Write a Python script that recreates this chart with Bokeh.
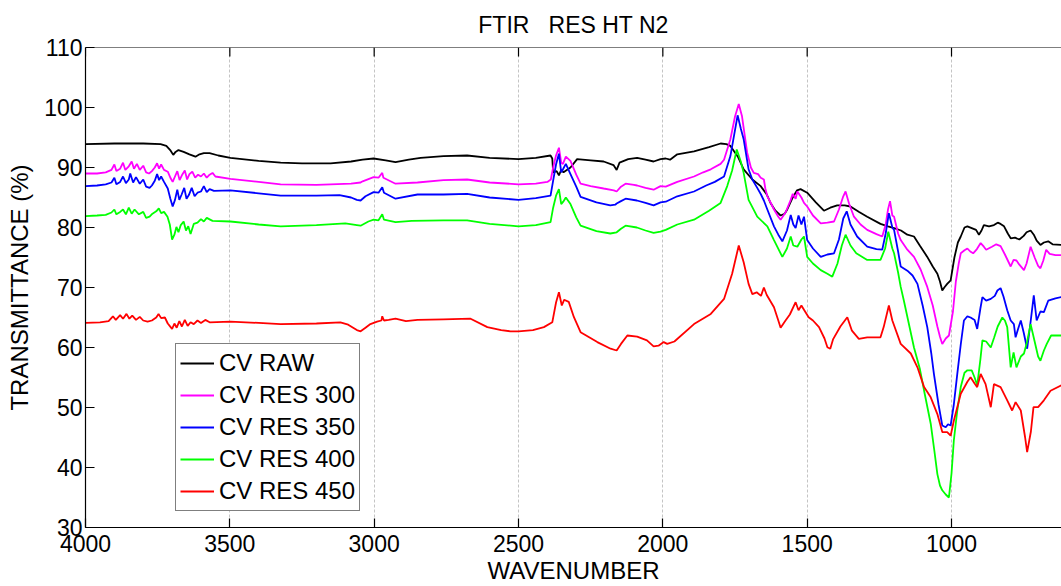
from bokeh.plotting import figure
from bokeh.models import Range1d, FixedTicker, Legend, LegendItem, Span
from bokeh.embed import file_html
from bokeh.resources import INLINE

TITLE = "FTIR\u00a0\u00a0 RES HT N2"
X_LABEL = "WAVENUMBER"
Y_LABEL = "TRANSMITTANCE (%)"
x_ticks = [4000, 3500, 3000, 2500, 2000, 1500, 1000]
y_ticks = [30, 40, 50, 60, 70, 80, 90, 100, 110]
series_names = ["CV RAW", "CV RES 300", "CV RES 350", "CV RES 400", "CV RES 450"]
series_colors = ["#000000", "#ff00ff", "#0000ff", "#00ff00", "#ff0000"]

# ---------------- CV RAW ----------------
wn_raw = [4000, 3900, 3800, 3740, 3720, 3705, 3696, 3688, 3678, 3660, 3640, 3619, 3605, 3590, 3570,
          3540, 3498, 3400, 3324, 3250, 3151, 3080, 3040, 3002, 2960, 2926, 2880, 2839, 2760, 2678,
          2600, 2500, 2440, 2389, 2383, 2380, 2368, 2360, 2352, 2344, 2320, 2297, 2250, 2205, 2171,
          2160, 2150, 2120, 2089, 2060, 2032, 2008, 1990, 1975, 1950, 1892, 1840, 1800, 1780, 1766,
          1740, 1720, 1690, 1661, 1640, 1627, 1610, 1592, 1578, 1569, 1550, 1535, 1523, 1500, 1470,
          1442, 1420, 1396, 1370, 1350, 1320, 1292, 1246, 1220, 1199, 1175, 1153, 1130, 1110, 1084,
          1065, 1049, 1040, 1032, 1025, 1015, 1003, 990, 978, 968, 955, 945, 930, 915, 905, 896, 888,
          870, 853, 840, 830, 818, 805, 795, 780, 765, 750, 740, 726, 715, 705, 692, 680, 665, 650, 619]
t_raw = [93.9, 94.0, 94.0, 93.9, 93.6, 92.8, 92.1, 92.6, 92.9, 92.6, 92.2, 91.8, 92.2, 92.4, 92.4,
         92.0, 91.6, 91.1, 90.8, 90.7, 90.7, 91.0, 91.3, 91.5, 91.2, 90.9, 91.3, 91.6, 91.9, 92.0,
         91.6, 91.4, 91.6, 92.0, 91.5, 89.2, 89.4, 88.7, 89.6, 89.2, 90.0, 91.4, 91.2, 91.0, 90.4,
         89.6, 90.8, 91.4, 91.6, 91.3, 91.0, 91.4, 91.5, 91.3, 92.2, 92.7, 93.4, 94.0, 93.9, 93.6,
         91.8, 89.7, 88.0, 86.9, 85.5, 84.1, 82.8, 82.0, 82.3, 83.0, 85.0, 86.2, 86.4, 85.8, 84.2,
         82.8, 83.3, 83.7, 83.7, 83.5, 82.6, 81.8, 80.6, 80.2, 79.9, 79.5, 78.8, 78.5, 77.0, 75.1,
         73.5, 72.3, 71.0, 69.5, 70.0, 70.6, 71.2, 75.0, 77.5, 78.5, 80.0, 80.2, 79.9, 79.6, 78.8, 79.5, 80.4,
         80.2, 80.4, 80.8, 80.6, 80.2, 79.0, 78.2, 78.3, 78.0, 78.6, 79.2, 79.5, 78.8, 77.8, 77.1, 77.5, 77.7, 77.2, 77.1]

# ---------------- CV RES 300 ----------------
wn_300 = [4000, 3960, 3930, 3910, 3900, 3893, 3880, 3870, 3862, 3850, 3840, 3832, 3822, 3812, 3800,
          3790, 3780, 3770, 3760, 3752, 3745, 3738, 3728, 3715, 3705, 3698, 3690, 3682, 3674, 3665,
          3656, 3648, 3640, 3630, 3620, 3610, 3600, 3590, 3580, 3570, 3560, 3550, 3498, 3400, 3324,
          3200, 3151, 3080, 3047, 3040, 3002, 2985, 2972, 2968, 2926, 2850, 2760, 2678, 2600, 2500,
          2440, 2400, 2388, 2380, 2370, 2360, 2352, 2346, 2336, 2320, 2300, 2285, 2250, 2205, 2170,
          2160, 2145, 2129, 2100, 2089, 2060, 2032, 2008, 1990, 1950, 1892, 1860, 1834, 1800, 1788,
          1766, 1750, 1737, 1726, 1708, 1695, 1685, 1670, 1661, 1650, 1645, 1638, 1625, 1615, 1600,
          1592, 1575, 1557, 1550, 1540, 1534, 1520, 1511, 1500, 1480, 1453, 1430, 1407, 1390, 1375,
          1367, 1355, 1338, 1315, 1292, 1260, 1240, 1228, 1220, 1213, 1205, 1199, 1185, 1176, 1153,
          1130, 1107, 1084, 1065, 1049, 1040, 1032, 1020, 1009, 995, 985, 975, 968, 955, 945, 935,
          925, 912, 899, 888, 880, 860, 845, 830, 815, 805, 795, 785, 775, 765, 749, 740, 732, 726,
          712, 700, 692, 682, 672, 660, 640, 619]
t_300 = [89.0, 89.0, 89.2, 89.6, 90.5, 89.4, 89.8, 90.8, 89.6, 90.2, 91.0, 89.8, 90.6, 89.6, 90.3,
         89.2, 89.0, 89.4, 90.0, 90.7, 89.8, 90.5, 89.6, 89.3, 88.2, 87.6, 88.5, 89.4, 87.9, 88.8,
         89.5, 88.0, 88.9, 89.3, 88.3, 88.8, 88.5, 89.0, 88.3, 88.8, 89.1, 88.5, 88.1, 87.6, 87.2,
         87.1, 87.2, 87.3, 87.5, 87.7, 88.4, 88.3, 89.1, 88.3, 87.3, 87.5, 87.9, 88.0, 87.5, 87.2,
         87.3, 87.6, 88.0, 90.0, 92.0, 93.3, 90.8, 90.6, 91.8, 91.1, 88.8, 87.3, 86.9, 86.5, 86.2,
         86.0, 86.8, 87.3, 87.1, 87.0, 86.6, 86.3, 86.9, 86.8, 87.6, 88.5, 89.2, 89.7, 90.6, 91.3,
         94.7, 98.5, 100.6, 98.6, 92.5, 90.0, 89.1, 88.9, 88.3, 88.0, 86.5, 85.2, 84.0, 83.0, 81.8,
         81.3, 82.5, 84.6, 85.6, 84.8, 86.0, 85.0, 84.1, 83.5, 82.0, 80.7, 80.8, 81.0, 83.0, 85.2,
         86.0, 84.0, 81.8, 80.5, 79.6, 78.9, 78.5, 80.5, 83.0, 84.4, 82.0, 81.8, 79.0, 77.9, 76.3,
         75.1, 73.0, 70.1, 67.0, 63.5, 61.8, 60.6, 61.5, 62.0, 66.0, 71.0, 74.0, 75.7, 76.2, 76.5, 76.0,
         75.7, 76.4, 77.4, 76.8, 76.3, 76.8, 77.2, 76.9, 75.5, 74.5, 73.5, 74.6, 74.5, 73.8, 72.9, 74.0, 75.6, 76.8,
         75.0, 73.6, 73.2, 74.5, 76.3, 75.6, 75.4, 75.4]

# ---------------- CV RES 350 ----------------
wn_350 = [4000, 3960, 3930, 3910, 3900, 3893, 3880, 3870, 3860, 3850, 3845, 3835, 3825, 3812, 3800,
          3790, 3778, 3770, 3760, 3752, 3745, 3738, 3728, 3715, 3706, 3698, 3690, 3682, 3675, 3667,
          3658, 3650, 3642, 3632, 3622, 3612, 3600, 3590, 3580, 3570, 3555, 3498, 3400, 3324, 3200,
          3120, 3080, 3060, 3047, 3030, 3002, 2985, 2972, 2966, 2926, 2850, 2760, 2678, 2600, 2500,
          2440, 2389, 2380, 2370, 2360, 2352, 2345, 2336, 2320, 2300, 2285, 2230, 2182, 2165, 2160,
          2145, 2129, 2090, 2060, 2032, 2008, 1990, 1950, 1892, 1850, 1820, 1788, 1766, 1741, 1730,
          1720, 1703, 1690, 1673, 1660, 1650, 1638, 1615, 1600, 1586, 1570, 1557, 1548, 1540, 1530,
          1520, 1511, 1500, 1480, 1453, 1430, 1407, 1390, 1375, 1363, 1350, 1327, 1292, 1260, 1240,
          1228, 1217, 1205, 1199, 1185, 1176, 1153, 1135, 1118, 1100, 1084, 1070, 1061, 1045, 1032,
          1020, 1012, 1003, 992, 980, 968, 957, 945, 934, 920, 911, 900, 893, 880, 864, 850, 841, 830,
          820, 807, 795, 784, 778, 770, 760, 750, 738, 728, 715, 705, 692, 680, 665, 640, 619]
t_350 = [86.9, 87.0, 87.2, 87.5, 88.3, 87.2, 87.6, 88.5, 87.4, 88.0, 89.0, 87.5, 88.4, 87.3, 88.0,
         86.8, 86.6, 87.0, 87.8, 88.9, 87.9, 88.5, 87.6, 86.5, 84.8, 83.5, 84.6, 86.3, 84.6, 85.5,
         86.6, 84.8, 85.4, 86.6, 85.2, 85.8, 86.0, 86.9, 85.9, 86.4, 86.1, 86.2, 85.7, 85.3, 85.3,
         85.4, 85.0, 84.6, 84.5, 85.2, 85.9, 85.8, 86.7, 85.8, 84.8, 85.5, 85.5, 85.6, 85.0, 84.6,
         84.9, 85.3, 87.8, 90.5, 92.3, 89.2, 89.8, 90.6, 88.9, 86.8, 85.1, 84.2, 83.7, 83.8, 84.0,
         84.4, 84.8, 84.5, 84.1, 83.7, 84.2, 84.3, 85.2, 86.0, 87.0, 87.6, 88.5, 91.9, 98.7, 96.5,
         94.7, 89.7, 88.0, 86.6, 85.5, 84.5, 83.0, 80.2, 78.8, 77.7, 79.5, 82.1, 80.5, 79.9, 82.0,
         80.5, 81.8, 77.9, 76.5, 75.1, 75.5, 75.7, 78.0, 81.5, 82.7, 80.5, 78.5, 76.8, 76.4, 76.3,
         79.0, 82.4, 80.0, 79.6, 76.0, 73.5, 72.8, 72.0, 70.6, 67.0, 63.4, 59.0, 55.6, 50.5, 47.0,
         46.7, 47.2, 47.0, 50.5, 55.6, 60.5, 64.5, 65.2, 65.0, 64.6, 63.1, 66.5, 68.4, 67.8, 68.1, 68.6, 69.5, 69.9,
         68.5, 66.2, 64.5, 63.9, 61.7, 63.0, 64.5, 62.5, 59.8, 63.5, 68.7, 64.5, 66.0, 65.9, 67.8, 68.2, 68.4]

# ---------------- CV RES 400 ----------------
wn_400 = [4000, 3960, 3930, 3910, 3900, 3893, 3880, 3870, 3860, 3850, 3840, 3830, 3815, 3800, 3790,
          3778, 3768, 3755, 3746, 3738, 3728, 3716, 3708, 3700, 3692, 3685, 3678, 3670, 3660, 3652,
          3644, 3636, 3625, 3612, 3600, 3590, 3580, 3560, 3498, 3400, 3324, 3200, 3100, 3060, 3047,
          3020, 3002, 2985, 2972, 2966, 2926, 2870, 2760, 2678, 2600, 2500, 2440, 2389, 2380, 2370,
          2360, 2352, 2345, 2336, 2320, 2300, 2285, 2230, 2182, 2160, 2145, 2129, 2090, 2060, 2032,
          2008, 1990, 1950, 1892, 1840, 1800, 1777, 1760, 1744, 1730, 1720, 1703, 1673, 1638, 1615,
          1586, 1570, 1557, 1548, 1534, 1520, 1511, 1500, 1480, 1453, 1430, 1413, 1395, 1380, 1367,
          1350, 1330, 1292, 1246, 1230, 1219, 1205, 1199, 1185, 1176, 1165, 1148, 1130, 1110, 1095,
          1072, 1060, 1049, 1040, 1032, 1020, 1009, 1000, 992, 980, 968, 955, 945, 930, 920, 911, 900,
          893, 880, 864, 852, 840, 824, 815, 807, 795, 785, 775, 760, 749, 738, 726, 712, 700, 692,
          680, 670, 655, 619]
t_400 = [81.9, 82.0, 82.1, 82.5, 83.0, 82.2, 82.6, 83.0, 82.2, 83.3, 82.3, 83.0, 82.2, 82.6, 81.6,
         81.8, 82.3, 82.7, 83.2, 82.4, 82.6, 81.8, 80.5, 78.0, 78.8, 80.1, 79.2, 80.4, 81.0, 79.5,
         80.2, 78.9, 80.6, 80.8, 81.4, 81.0, 81.6, 81.1, 81.0, 80.5, 80.2, 80.4, 80.7, 80.4, 80.3,
         81.0, 81.3, 81.2, 82.2, 81.3, 80.9, 81.1, 81.2, 81.2, 80.6, 80.2, 80.4, 80.9, 83.3, 85.3,
         86.4, 83.9, 84.3, 85.0, 83.9, 81.7, 80.3, 79.4, 79.0, 79.2, 79.8, 80.3, 80.0, 79.5, 79.1,
         79.3, 79.6, 80.5, 81.3, 82.8, 84.1, 86.9, 89.5, 93.0, 91.0, 89.1, 84.6, 81.8, 80.2, 77.9,
         75.1, 76.5, 78.5, 77.0, 76.8, 78.0, 78.5, 75.1, 74.0, 72.9, 72.3, 71.8, 74.0, 77.0, 78.8,
         77.0, 75.7, 74.6, 74.6, 76.5, 79.3, 76.5, 75.7, 72.5, 70.1, 67.8, 64.0, 60.0, 56.5, 52.8,
         47.3, 43.0, 38.9, 37.0, 36.2, 35.5, 35.0, 39.0, 44.5, 49.5, 53.4, 55.8, 56.2, 56.2, 55.0, 53.7, 58.0,
         61.2, 61.0, 60.0, 61.7, 63.5, 65.0, 64.5, 63.4, 56.7, 59.2, 56.7, 58.5, 59.0, 61.0, 63.9, 61.0, 58.5, 57.8,
         59.5, 60.6, 62.0, 62.0]

# ---------------- CV RES 450 ----------------
wn_450 = [4000, 3950, 3920, 3905, 3895, 3880, 3870, 3858, 3848, 3838, 3825, 3812, 3800, 3785, 3770,
          3755, 3747, 3738, 3725, 3715, 3705, 3700, 3692, 3684, 3675, 3666, 3656, 3646, 3636, 3625,
          3612, 3600, 3585, 3570, 3498, 3400, 3324, 3200, 3117, 3090, 3060, 3047, 3030, 3013, 2990,
          2975, 2972, 2966, 2950, 2926, 2890, 2850, 2760, 2666, 2608, 2560, 2528, 2500, 2450, 2412,
          2383, 2370, 2360, 2350, 2342, 2326, 2308, 2285, 2227, 2181, 2160, 2145, 2123, 2089, 2055,
          2032, 2015, 1997, 1985, 1960, 1892, 1834, 1788, 1760, 1737, 1720, 1703, 1690, 1675, 1660,
          1650, 1640, 1615, 1600, 1592, 1575, 1560, 1540, 1530, 1520, 1510, 1495, 1480, 1459, 1440,
          1430, 1420, 1410, 1385, 1361, 1345, 1321, 1292, 1246, 1235, 1217, 1205, 1176, 1141, 1118,
          1095, 1072, 1049, 1032, 1015, 1003, 992, 968, 945, 934, 920, 911, 899, 882, 864, 853, 830,
          807, 790, 778, 760, 745, 738, 725, 716, 700, 680, 657, 619]
t_450 = [64.1, 64.2, 64.4, 65.2, 64.6, 65.4, 64.8, 65.6, 64.8, 65.3, 64.6, 65.1, 64.5, 64.3, 64.5,
         65.0, 65.6, 64.9, 65.0, 64.0, 63.4, 63.1, 64.0, 63.3, 64.4, 63.5, 64.6, 63.6, 64.2, 63.9,
         64.5, 64.1, 64.6, 64.2, 64.3, 64.1, 63.9, 64.0, 64.2, 63.8, 62.9, 62.7, 63.3, 63.9, 64.3,
         64.5, 65.2, 64.5, 64.6, 64.8, 64.4, 64.6, 64.7, 64.8, 63.4, 62.9, 62.7, 62.7, 62.9, 63.4,
         64.2, 67.5, 69.2, 67.0, 67.95, 67.6, 65.05, 62.55, 60.9, 59.8, 59.5, 60.6, 62.0, 61.8, 61.2,
         60.2, 60.3, 60.9, 60.6, 61.0, 63.9, 65.6, 68.1, 72.3, 77.0, 74.2, 70.6, 68.9, 69.2, 68.6,
         70.0, 68.75, 66.7, 64.5, 63.3, 64.5, 65.5, 67.55, 66.2, 67.0, 66.2, 65.05, 64.5, 63.4, 61.5,
         60.05, 59.8, 61.4, 63.5, 65.05, 62.8, 61.45, 61.7, 61.7, 63.4, 67.0, 64.5, 60.6, 59.0, 56.7,
         53.4, 51.7, 48.9, 45.9, 45.9, 45.3, 47.8, 52.3, 54.3, 55.05, 54.0, 53.4, 55.6, 53.9, 50.05, 53.9, 53.4,
         51.2, 49.5, 50.9, 49.5, 45.0, 42.55, 46.0, 50.05, 50.05, 51.2, 52.8, 53.7]

series_x = [wn_raw, wn_300, wn_350, wn_400, wn_450]
series_y = [t_raw, t_300, t_350, t_400, t_450]

FONT = "Liberation Sans"
Y_MIN, Y_MAX = 30, 110

p = figure(width=1061, height=586, output_backend="svg", toolbar_location=None,
           x_range=Range1d(4000, 619), y_range=Range1d(Y_MIN, Y_MAX),
           min_border_left=85, min_border_right=0, min_border_top=47, min_border_bottom=59,
           background_fill_color="white", border_fill_color="white")
p.outline_line_color = None

p.title.text = TITLE
p.title.align = "center"
p.title.text_font = FONT
p.title.text_font_size = "23px"
p.title.text_font_style = "normal"
p.title.text_color = "black"
p.title.standoff = 16
p.title.vertical_align = "top"

for ax in (p.xaxis[0], p.yaxis[0]):
    ax.axis_line_color = "black"
    ax.axis_line_width = 1.2
    ax.major_tick_in = 9
    ax.major_tick_out = 0
    ax.major_tick_line_color = "black"
    ax.major_tick_line_width = 1.2
    ax.minor_tick_line_color = None
    ax.major_label_text_font = FONT
    ax.major_label_text_font_size = "23px"
    ax.major_label_text_color = "black"
    ax.axis_label_text_font = FONT
    ax.axis_label_text_font_size = "24px"
    ax.axis_label_text_font_style = "normal"
    ax.axis_label_text_color = "black"

p.xaxis[0].ticker = FixedTicker(ticks=x_ticks)
p.yaxis[0].ticker = FixedTicker(ticks=y_ticks)
p.xaxis[0].axis_label = X_LABEL
p.yaxis[0].axis_label = Y_LABEL
p.xaxis[0].major_label_standoff = 7
p.xaxis[0].axis_label_standoff = 2
p.yaxis[0].major_label_standoff = 3
p.yaxis[0].axis_label_standoff = 8

# top frame line and inward top ticks
p.add_layout(Span(location=Y_MAX, dimension="width", line_color="black", line_width=1.2))
tick_len = 9.0 / 6.0  # 9 screen px in data units (6 px per unit)
p.segment(x0=x_ticks, y0=[Y_MAX] * len(x_ticks), x1=x_ticks,
          y1=[Y_MAX - tick_len] * len(x_ticks), line_color="black", line_width=1.2)

p.xgrid.grid_line_color = "#c4c4c4"
p.xgrid.grid_line_dash = "3 2"
p.xgrid.grid_line_width = 1
p.xgrid.ticker = FixedTicker(ticks=x_ticks)
p.ygrid.grid_line_color = None

items = []
for name, col, xs, ys in zip(series_names, series_colors, series_x, series_y):
    r = p.line(xs, ys, line_color=col, line_width=1.8)
    items.append(LegendItem(label=name, renderers=[r]))

legend = Legend(items=items, location=(90, 16), orientation="vertical",
                label_text_font=FONT, label_text_font_size="24px", label_text_color="black",
                label_height=30, glyph_height=30, glyph_width=34, label_standoff=5,
                spacing=2, padding=4, margin=0,
                border_line_color="black", border_line_width=1.2,
                background_fill_color="white", background_fill_alpha=1.0)
p.add_layout(legend, "center")

open("out.html", "w").write(file_html(p, INLINE))
